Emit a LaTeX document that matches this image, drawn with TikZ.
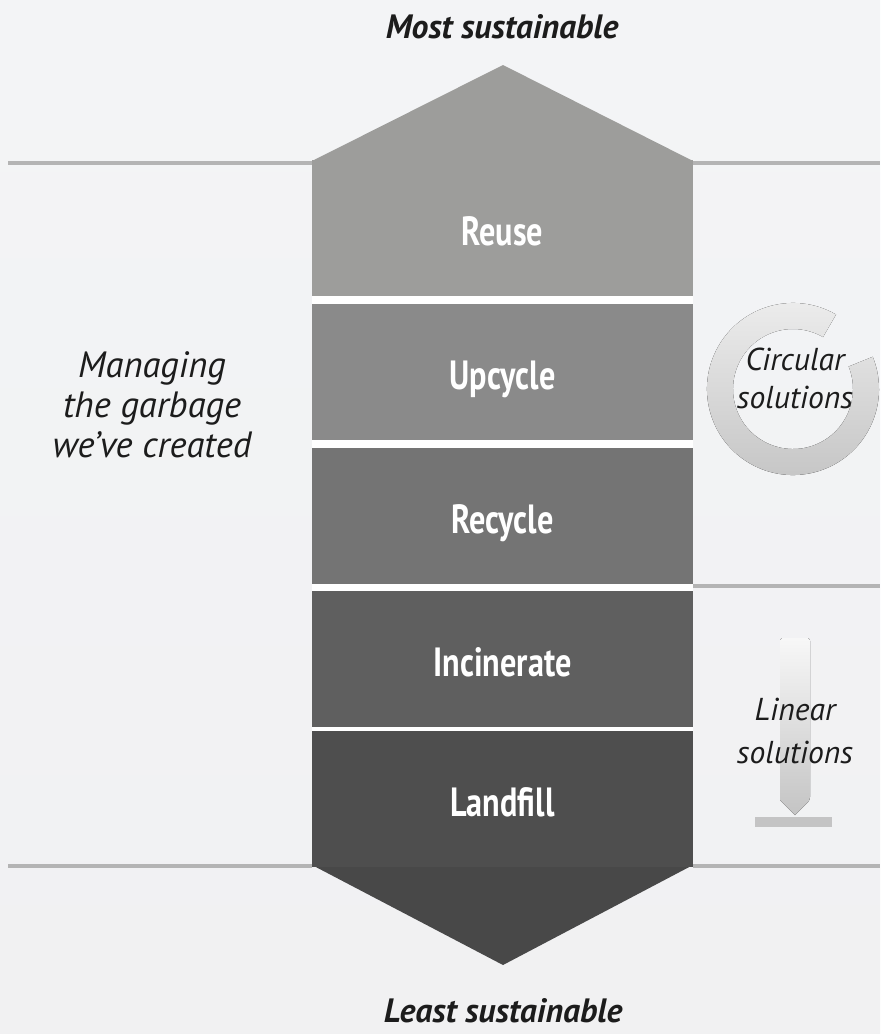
\documentclass[tikz,border=0pt]{standalone}
\usepackage{fontspec}
\setmainfont{PT Sans}
\newfontfamily\stagefont[FakeStretch=0.79]{PT Sans}

\definecolor{bgtop}{HTML}{F3F4F6}
\definecolor{bgmid}{HTML}{FCFCFC}
\definecolor{bgbottom}{HTML}{F1F1F2}
\definecolor{rulegray}{HTML}{B4B4B4}
\definecolor{inkgray}{HTML}{1C1C1C}
\definecolor{reusegray}{HTML}{9D9D9B}
\definecolor{upcyclegray}{HTML}{8A8A8A}
\definecolor{recyclegray}{HTML}{747474}
\definecolor{incinerategray}{HTML}{5F5F5F}
\definecolor{landfillgray}{HTML}{4E4E4E}
\definecolor{ringlight}{HTML}{EEEEEE}
\definecolor{ringdark}{HTML}{C4C4C4}

\begin{document}
\begin{tikzpicture}[x=0.025cm, y=-0.025cm,
  stage/.style={rectangle, minimum width=9.525cm, minimum height=3.375cm, inner sep=0pt, text height=0.86cm, text depth=0pt, text=white, font=\stagefont\bfseries\fontsize{29}{32}\selectfont},
  note/.style={align=center, text=inkgray, font=\itshape\fontsize{22.5}{27}\selectfont},
  heading/.style={text=inkgray, font=\bfseries\itshape\fontsize{24}{28}\selectfont},
  rule/.style={rulegray, line width=0.1cm}]
\fill[top color=bgtop, middle color=bgmid, bottom color=bgbottom] (0,0) rectangle (880,1034) ;
\fill[white] (312,160) rectangle (693,866) ;
\draw[rule] (8,163) -- (312,163) ;
\draw[rule] (693,163) -- (880,163) ;
\draw[rule] (693,586) -- (880,586) ;
\draw[rule] (8,866) -- (312,866) ;
\draw[rule] (693,866) -- (880,866) ;
\fill[reusegray] (312,161) -- (503,65) -- (693,161) -- cycle ;
\fill[landfillgray!92!black] (312,865) -- (503,965) -- (693,865) -- cycle ;
\node[stage, fill=reusegray] (reuse) at (502.5,228) {Reuse} ;
\node[stage, fill=upcyclegray] (upcycle) at (502.5,372) {Upcycle} ;
\node[stage, fill=recyclegray] (recycle) at (502.5,516) {Recycle} ;
\node[stage, fill=incinerategray] (incinerate) at (502.5,659) {Incinerate} ;
\node[stage, fill=landfillgray] (landfill) at (502.5,799) {Landfill} ;
\node[heading] (most) at (502,27) {Most sustainable} ;
\node[heading] (least) at (503,1011) {Least sustainable} ;
\node[note, font=\itshape\fontsize{26}{28.5}\selectfont] (managing) at (152,405) {Managing\\the garbage\\we’ve created} ;
\coordinate (ringc) at (793,389) ;
\fill[top color=ringlight, bottom color=ringdark] ([shift={(60:2.15cm)}]ringc) arc[start angle=60, end angle=382, radius=2.15cm] -- ([shift={(22:1.5cm)}]ringc) arc[start angle=382, end angle=60, radius=1.5cm] -- cycle ;
\node[note] (circular) at (795,378) {Circular\\solutions} ;
\fill[top color=white!94!gray, bottom color=ringdark, rounded corners=2pt] (780,800) -- (780,638) -- (810,638) -- (810,800) [sharp corners] -- (795,815) -- cycle ;
\fill[ringdark] (755,817) rectangle (832,827) ;
\node[note, font=\itshape\fontsize{22.5}{30.5}\selectfont] (linear) at (795,731) {Linear\\solutions} ;
\end{tikzpicture}
\end{document}
